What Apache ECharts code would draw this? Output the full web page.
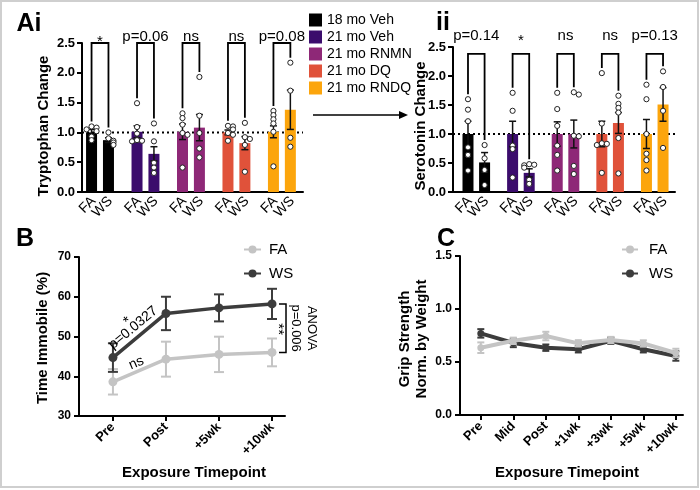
<!DOCTYPE html>
<html><head><meta charset="utf-8">
<script src="https://cdn.jsdelivr.net/npm/echarts@6/dist/echarts.min.js"></script>
<style>html,body{margin:0;padding:0;background:#fff}#c{width:700px;height:490px}</style>
</head><body><div id="c"></div>
<script>
// ---------------- DATA ----------------
const groups = ['18 mo Veh', '21 mo Veh', '21 mo RNMN', '21 mo DQ', '21 mo RNDQ'];
const conds = ['FA', 'WS'];
const trpMean = [[1.0, 0.87], [1.01, 0.64], [1.01, 1.08], [1.0, 0.82], [1.01, 1.38]];
const trpSem = [[0.05, 0.04], [0.1, 0.12], [0.13, 0.22], [0.04, 0.11], [0.1, 0.33]];
const trpPoints = [
  [[1.1, 1.08, 1.05, 1.02, 0.93, 0.87], [1.0, 0.9, 0.86, 0.83, 0.79]],
  [[1.49, 1.09, 0.98, 0.87, 0.86, 0.85], [1.15, 0.85, 0.49, 0.41, 0.32]],
  [[1.32, 1.24, 1.13, 0.99, 0.96, 0.41], [1.93, 1.28, 0.99, 0.73, 0.58]],
  [[1.11, 1.1, 1.05, 0.99, 0.96, 0.86], [1.16, 0.92, 0.89, 0.79, 0.34]],
  [[1.36, 1.29, 1.22, 1.15, 1.01, 0.43], [2.17, 1.7, 0.91, 0.76]]
];
const trpSig = ['*', 'p=0.06', 'ns', 'ns', 'p=0.08'];

const serMean = [[1.0, 0.51], [1.0, 0.33], [1.0, 1.0], [1.0, 1.19], [1.0, 1.51]];
const serSem = [[0.22, 0.17], [0.22, 0.07], [0.21, 0.24], [0.22, 0.18], [0.25, 0.29]];
const serPoints = [
  [[1.6, 1.42, 1.22, 0.77, 0.64, 0.37], [0.81, 0.58, 0.38, 0.12]],
  [[1.71, 1.4, 0.8, 0.74, 0.25], [0.48, 0.47, 0.46, 0.42, 0.21, 0.14]],
  [[1.71, 1.43, 1.14, 0.8, 0.64, 0.37], [1.72, 1.68, 0.97, 0.96, 0.45, 0.31]],
  [[2.05, 1.18, 0.84, 0.83, 0.81, 0.33], [1.66, 1.52, 1.45, 1.37, 0.93, 0.32]],
  [[1.85, 1.6, 1.0, 0.66, 0.55, 0.37], [2.08, 1.81, 1.4, 0.76]]
];
const serSig = ['p=0.14', '*', 'ns', 'ns', 'p=0.13'];

const timeB = ['Pre', 'Post', '+5wk', '+10wk'];
const immFA = [38.6, 44.3, 45.5, 46.0];
const immFAsem = [3.2, 4.4, 4.45, 3.5];
const immWS = [44.7, 55.8, 57.2, 58.2];
const immWSsem = [3.6, 4.2, 3.4, 3.8];

const timeC = ['Pre', 'Mid', 'Post', '+1wk', '+3wk', '+5wk', '+10wk'];
const gripFA = [0.635, 0.70, 0.745, 0.676, 0.707, 0.675, 0.585];
const gripFAsem = [0.05, 0.03, 0.04, 0.03, 0.03, 0.03, 0.04];
const gripWS = [0.77, 0.68, 0.635, 0.62, 0.70, 0.62, 0.557];
const gripWSsem = [0.04, 0.04, 0.03, 0.03, 0.03, 0.03, 0.045];

// ---------------- STYLE / LAYOUT ----------------
const FONT = '"Liberation Sans", Arial, Helvetica, sans-serif';
const groupColors = ['#000000', '#3b0c6c', '#8e2877', '#e0523a', '#fca50c'];
const WS_OFF = 0.372;
const BAR_W = 11, CAP = 7;
const GREY_FA = '#c4c4c4', GREY_WS = '#3c3c3c';

const barPanels = [
  { mean: trpMean, sem: trpSem, pts: trpPoints, sig: trpSig,
    grid: { left: 82, top: 43, width: 221, height: 149 }, xmin: -0.21, xmax: 4.65,
    bracketTop: 2.5, labelOff: -6 },
  { mean: serMean, sem: serSem, pts: serPoints, sig: serSig,
    grid: { left: 453, top: 47, width: 222, height: 145 }, xmin: -0.336, xmax: 4.64,
    bracketTop: 2.38, labelOff: -18 }
];
const pos = (g, c) => g + c * WS_OFF;

const grids = barPanels.map(p => p.grid).concat([
  { left: 79, top: 257, width: 206, height: 159 },
  { left: 460, top: 256, width: 223, height: 159 }
]);

const xAxes = [], yAxes = [], series = [];
const axisLine = { show: true, onZero: false, lineStyle: { color: '#000', width: 2 } };
const axisTick = { show: true, length: 5, lineStyle: { color: '#000', width: 2 } };

function jitter(vals) {
  return vals.map((v, i) => {
    let k = 0;
    for (let j = 0; j < i; j++) if (Math.abs(vals[j] - v) < 0.06) k++;
    const off = k === 0 ? 0 : (k % 2 ? 5 : -5) * Math.ceil(k / 2);
    return [v, off];
  });
}

function barRender(params, api) {
  const x = api.value(0), m = api.value(1), s = api.value(2);
  const top = api.coord([x, m]), base = api.coord([x, 0]);
  const hi = api.coord([x, m + s]), lo = api.coord([x, m - s]);
  const cx = top[0];
  const st = { stroke: '#111', lineWidth: 1.5 };
  return { type: 'group', children: [
    { type: 'rect', shape: { x: cx - BAR_W / 2, y: top[1], width: BAR_W, height: base[1] - top[1] }, style: { fill: api.visual('color') } },
    { type: 'line', shape: { x1: cx, y1: hi[1], x2: cx, y2: lo[1] }, style: st },
    { type: 'line', shape: { x1: cx - CAP / 2, y1: hi[1], x2: cx + CAP / 2, y2: hi[1] }, style: st },
    { type: 'line', shape: { x1: cx - CAP / 2, y1: lo[1], x2: cx + CAP / 2, y2: lo[1] }, style: st },
    { type: 'text', x: cx + 2, y: base[1] + 7, rotation: Math.PI / 4,
      style: { text: conds[params.dataIndex], align: 'right', verticalAlign: 'middle', fontSize: 14, fill: '#000', fontFamily: FONT } }
  ] };
}

barPanels.forEach((P, p) => {
  xAxes.push({
    gridIndex: p, type: 'value', min: P.xmin, max: P.xmax,
    axisLine: axisLine, axisTick: { show: false }, splitLine: { show: false },
    axisLabel: { show: false }
  });
  yAxes.push({
    gridIndex: p, type: 'value', min: 0, max: 2.5, interval: 0.5,
    axisLine: axisLine, axisTick: axisTick, splitLine: { show: false },
    axisLabel: { formatter: v => v.toFixed(1), fontSize: 13, fontWeight: 'bold', color: '#000', margin: 7, fontFamily: FONT }
  });
  // dotted reference line at 1.0
  series.push({
    type: 'custom', xAxisIndex: p, yAxisIndex: p, z: 1, silent: true,
    data: [[P.xmin, P.xmax, 1]],
    renderItem: (params, api) => {
      const a = api.coord([api.value(0), api.value(2)]), b = api.coord([api.value(1), api.value(2)]);
      return { type: 'line', shape: { x1: a[0], y1: a[1], x2: b[0], y2: b[1] },
        style: { stroke: '#000', lineWidth: 2, lineDash: [2, 3] } };
    }
  });
  groups.forEach((g, gi) => {
    series.push({
      type: 'custom', name: g, xAxisIndex: p, yAxisIndex: p, z: 2, clip: false,
      itemStyle: { color: groupColors[gi] },
      data: conds.map((c, ci) => [pos(gi, ci), P.mean[gi][ci], P.sem[gi][ci]]),
      renderItem: barRender
    });
  });
  // dots
  const dots = [];
  groups.forEach((g, gi) => conds.forEach((c, ci) => {
    jitter(P.pts[gi][ci]).forEach(([v, off]) => dots.push([pos(gi, ci), v, off]));
  }));
  series.push({
    type: 'custom', xAxisIndex: p, yAxisIndex: p, z: 4, data: dots,
    renderItem: (params, api) => {
      const c = api.coord([api.value(0), api.value(1)]);
      return { type: 'circle', shape: { cx: c[0] + api.value(2), cy: c[1], r: 2.6 },
        style: { fill: '#fff', stroke: '#222', lineWidth: 1 } };
    }
  });
  // brackets + significance labels
  series.push({
    type: 'custom', xAxisIndex: p, yAxisIndex: p, z: 3,
    data: groups.map((g, gi) => [pos(gi, 0), pos(gi, 1),
      Math.max(Math.max(...P.pts[gi][0]), P.mean[gi][0] + P.sem[gi][0]),
      Math.max(Math.max(...P.pts[gi][1]), P.mean[gi][1] + P.sem[gi][1])]),
    renderItem: (params, api) => {
      const i = params.dataIndex;
      const a = api.coord([api.value(0), api.value(2)]);
      const b = api.coord([api.value(1), api.value(3)]);
      const t = api.coord([api.value(0), P.bracketTop])[1];
      const lab = P.sig[i];
      return { type: 'group', children: [
        { type: 'polyline', shape: { points: [[a[0], a[1] - 5], [a[0], t], [b[0], t], [b[0], b[1] - 5]] },
          style: { stroke: '#000', lineWidth: 1.8, fill: 'none' } },
        { type: 'text', x: (a[0] + b[0]) / 2, y: t + P.labelOff + (lab === '*' ? 5 : 0),
          style: { text: lab, align: 'center', verticalAlign: 'middle', fontSize: 15, fill: '#000', fontFamily: FONT } }
      ] };
    }
  });
});

// ---------- Panel B & C axes ----------
function lineAxes(gi, labels, xmin, xmax, ymin, ymax, yint, ydec) {
  const idx = labels.map((l, i) => i);
  xAxes.push({
    gridIndex: gi, type: 'value', min: xmin, max: xmax,
    axisLine: axisLine, splitLine: { show: false },
    axisTick: Object.assign({ customValues: idx }, axisTick),
    axisLabel: { customValues: idx, formatter: v => labels[Math.round(v)] || '', rotate: 45,
      hideOverlap: false, showMinLabel: true, showMaxLabel: true,
      fontSize: 13, fontWeight: 'bold', color: '#000', margin: 9, fontFamily: FONT }
  });
  yAxes.push({
    gridIndex: gi, type: 'value', min: ymin, max: ymax, interval: yint,
    axisLine: axisLine, axisTick: axisTick, splitLine: { show: false },
    axisLabel: { formatter: v => v.toFixed(ydec), fontSize: 12, fontWeight: 'bold', color: '#000', margin: 8, fontFamily: FONT }
  });
}
lineAxes(2, timeB, -0.64, 3.245, 30, 70, 10, 0);
lineAxes(3, timeC, -0.64, 6.22, 0, 1.5, 0.5, 1);

function errSeries(ai, means, sems, color, capW, lw, z) {
  return {
    type: 'custom', xAxisIndex: ai, yAxisIndex: ai, z: z, silent: true,
    data: means.map((m, i) => [i, m, sems[i]]),
    renderItem: (params, api) => {
      const x = api.value(0), m = api.value(1), s = api.value(2);
      const hi = api.coord([x, m + s]), lo = api.coord([x, m - s]);
      const st = { stroke: color, lineWidth: lw };
      return { type: 'group', children: [
        { type: 'line', shape: { x1: hi[0], y1: hi[1], x2: lo[0], y2: lo[1] }, style: st },
        { type: 'line', shape: { x1: hi[0] - capW / 2, y1: hi[1], x2: hi[0] + capW / 2, y2: hi[1] }, style: st },
        { type: 'line', shape: { x1: lo[0] - capW / 2, y1: lo[1], x2: lo[0] + capW / 2, y2: lo[1] }, style: st }
      ] };
    }
  };
}
function lineSeries(ai, name, vals, color, lw, sym, z) {
  return { type: 'line', name: name, xAxisIndex: ai, yAxisIndex: ai, z: z,
    data: vals.map((v, i) => [i, v]), symbol: 'circle', symbolSize: sym, showSymbol: true,
    lineStyle: { color: color, width: lw }, itemStyle: { color: color } };
}
series.push(errSeries(2, immFA, immFAsem, GREY_FA, 10, 2, 5));
series.push(lineSeries(2, 'FA', immFA, GREY_FA, 3.5, 9, 6));
series.push(errSeries(2, immWS, immWSsem, GREY_WS, 10, 2, 7));
series.push(lineSeries(2, 'WS', immWS, GREY_WS, 3.5, 9, 8));
series.push(errSeries(3, gripWS, gripWSsem, GREY_WS, 7, 2, 5));
series.push(lineSeries(3, 'WS', gripWS, GREY_WS, 4, 7, 6));
series.push(errSeries(3, gripFA, gripFAsem, GREY_FA, 7, 2, 7));
series.push(lineSeries(3, 'FA', gripFA, GREY_FA, 4, 7, 8));

// annotations for panel B
series.push({
  type: 'custom', xAxisIndex: 2, yAxisIndex: 2, z: 9, silent: true, data: [[0, 50]],
  renderItem: (params, api) => {
    const w0 = api.coord([0, immWS[0]]), w1 = api.coord([1, immWS[1]]);
    const f0 = api.coord([0, immFA[0]]), f1 = api.coord([1, immFA[1]]);
    const ang = (a, b) => Math.atan2(a[1] - b[1], b[0] - a[0]);
    const nrm = a => [-Math.sin(a), -Math.cos(a)];
    const aw = ang(w0, w1), af = ang(f0, f1);
    const nw = nrm(aw), nf = nrm(af);
    const mw = [(w0[0] + w1[0]) / 2, (w0[1] + w1[1]) / 2];
    const mf = [(f0[0] + f1[0]) / 2, (f0[1] + f1[1]) / 2];
    const pt = [mw[0] + nw[0] * 10, mw[1] + nw[1] * 10];
    const star = [pt[0] + nw[0] * 8, pt[1] + nw[1] * 8];
    const ns = [mf[0] + nf[0] * 8, mf[1] + nf[1] * 8];
    const e1 = api.coord([3, immWS[3]]), e2 = api.coord([3, immFA[3]]);
    const bx = e1[0] + 14, tip = e1[0] + 7, my = (e1[1] + e2[1]) / 2;
    const ts = (t, fs) => ({ text: t, align: 'center', verticalAlign: 'middle', fontSize: fs, fill: '#000', fontFamily: FONT });
    return { type: 'group', children: [
      { type: 'text', x: pt[0], y: pt[1], rotation: aw, style: ts('p=0.0327', 14) },
      { type: 'text', x: star[0], y: star[1], rotation: aw, style: ts('*', 15) },
      { type: 'text', x: ns[0], y: ns[1], rotation: af, style: ts('ns', 14) },
      { type: 'polyline', shape: { points: [[tip, e1[1]], [bx, e1[1]], [bx, e2[1]], [tip, e2[1]]] },
        style: { stroke: '#000', lineWidth: 1.5, fill: 'none' } },
      { type: 'text', x: e1[0] + 6, y: my + 1, rotation: -Math.PI / 2, style: ts('**', 15) },
      { type: 'text', x: bx + 10, y: my, rotation: -Math.PI / 2, style: ts('p=0.006', 13) },
      { type: 'text', x: bx + 26, y: my, rotation: -Math.PI / 2, style: ts('ANOVA', 13) }
    ] };
  }
});

const txt = (t, x, y, fs, bold, rot) => ({ type: 'text', x: x, y: y, rotation: rot || 0, z: 50,
  style: { text: t, fontSize: fs, fontWeight: bold ? 'bold' : 'normal', fill: '#000', fontFamily: FONT,
    align: 'center', verticalAlign: 'middle', lineHeight: 17 } });

const option = {
  animation: false,
  backgroundColor: '#fff',
  grid: grids,
  xAxis: xAxes,
  yAxis: yAxes,
  legend: [
    { data: groups, orient: 'vertical', left: 309, top: 13, padding: 0, icon: 'rect', itemWidth: 13, itemHeight: 13, itemGap: 3,
      selectedMode: false, textStyle: { fontSize: 14, color: '#000', fontFamily: FONT, lineHeight: 13 } },
    { data: ['FA', 'WS'], orient: 'vertical', left: 243, top: 242, padding: 0, itemWidth: 17, itemHeight: 10, itemGap: 9,
      selectedMode: false, textStyle: { fontSize: 15, color: '#000', fontFamily: FONT, lineHeight: 15, padding: [0, 0, 0, 3] } },
    { data: ['FA', 'WS'], orient: 'vertical', left: 621, top: 242, padding: 0, itemWidth: 16, itemHeight: 10, itemGap: 9,
      selectedMode: false, textStyle: { fontSize: 15, color: '#000', fontFamily: FONT, lineHeight: 15, padding: [0, 0, 0, 6] } }
  ],
  graphic: [
    { type: 'rect', shape: { x: 1, y: 1, width: 697, height: 486 }, style: { fill: 'none', stroke: '#cfcfcf', lineWidth: 2 }, z: 0 },
    txt('Ai', 29, 24, 25, true), txt('ii', 443, 23, 25, true),
    txt('B', 25, 239, 25, true), txt('C', 446, 239, 25, true),
    txt('Tryptophan Change', 44, 126, 15, true, Math.PI / 2),
    txt('Serotonin Change', 421, 126, 15, true, Math.PI / 2),
    txt('Time Immobile (%)', 43, 338, 15, true, Math.PI / 2),
    txt('Grip Strength\nNorm. by Weight', 413, 339, 15, true, Math.PI / 2),
    txt('Exposure Timepoint', 194, 473, 15, true),
    txt('Exposure Timepoint', 567, 473, 15, true),
    { type: 'group', z: 50, children: [
      { type: 'line', shape: { x1: 313, y1: 115, x2: 401, y2: 115 }, style: { stroke: '#000', lineWidth: 1.5 } },
      { type: 'polygon', shape: { points: [[408, 115], [399, 111], [399, 119]] }, style: { fill: '#000' } }
    ] }
  ],
  series: series
};
echarts.init(document.getElementById('c'), null, { renderer: 'canvas' }).setOption(option);
</script></body></html>
